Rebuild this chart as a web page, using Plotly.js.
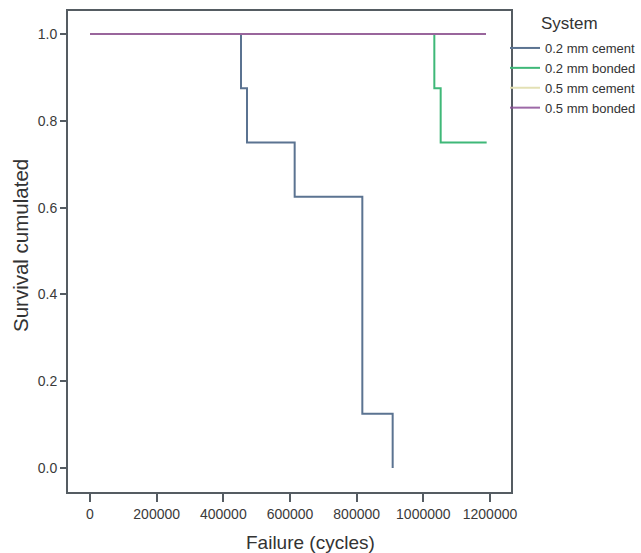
<!DOCTYPE html>
<html>
<head>
<meta charset="utf-8">
<script src="https://cdn.plot.ly/plotly-3.0.1.min.js"></script>
<style>html,body{margin:0;padding:0;background:#fff;}#chart{width:641px;height:553px;}</style>
</head>
<body>
<div id="chart"></div>
<script>
// Kaplan-Meier style survival data (step functions)
const seriesNames = ["0.2 mm cement", "0.2 mm bonded", "0.5 mm cement", "0.5 mm bonded"];
const cement02X = [0, 453000, 471000, 614000, 817000, 908000];
const cement02Y = [1.0, 0.875, 0.75, 0.625, 0.125, 0.0];
const bonded02X = [0, 1033000, 1052000, 1190000];
const bonded02Y = [1.0, 0.875, 0.75, 0.75];
const cement05X = [0, 1188000];
const cement05Y = [1.0, 1.0];
const bonded05X = [0, 1188000];
const bonded05Y = [1.0, 1.0];
const xTickVals = [0, 200000, 400000, 600000, 800000, 1000000, 1200000];
const yTickVals = [0.0, 0.2, 0.4, 0.6, 0.8, 1.0];
const legendTitle = "System";
const xTitle = "Failure (cycles)";
const yTitle = "Survival cumulated";

const colors = ["#5b7391", "#3fb878", "#e3e0b4", "#8c4f98"];
const xs = [cement02X, bonded02X, cement05X, bonded05X];
const ys = [cement02Y, bonded02Y, cement05Y, bonded05Y];

const traces = seriesNames.map((n, i) => ({
  type: "scatter", mode: "lines", name: n,
  x: xs[i], y: ys[i],
  opacity: i === 3 ? 0.85 : 1,
  line: {shape: "hv", color: colors[i], width: 2}
}));

const FAM = "Liberation Sans, Arial, sans-serif";
const axisFont = {family: FAM, size: 14, color: "#3a3a3a"};
const L = 68, T = 11, W = 443, H = 481;
const px2x = p => (p - L) / W;
const px2y = p => (T + H - p) / H;
const layout = {
  width: 641, height: 553,
  margin: {l: 68, r: 130, t: 11, b: 61, autoexpand: false},
  paper_bgcolor: "#fff", plot_bgcolor: "#fff",
  showlegend: true,
  legend: {
    x: px2x(505), xanchor: "left", y: px2y(33), yanchor: "top",
    font: {family: FAM, size: 13, color: "#333"},
    tracegroupgap: 0, itemwidth: 30, bgcolor: "rgba(0,0,0,0)"
  },
  annotations: [
    {text: legendTitle, xref: "paper", yref: "paper",
     x: px2x(539), xanchor: "left", y: px2y(23), yanchor: "middle",
     showarrow: false, font: {family: FAM, size: 17, color: "#333"}},
    {text: xTitle, xref: "paper", yref: "paper",
     x: px2x(310), xanchor: "center", y: px2y(542), yanchor: "middle",
     showarrow: false, font: {family: FAM, size: 19, color: "#333"}},
    {text: yTitle, xref: "paper", yref: "paper", textangle: -90,
     x: px2x(20), xanchor: "center", y: px2y(246), yanchor: "middle",
     showarrow: false, font: {family: FAM, size: 20.5, color: "#333"}}
  ],
  xaxis: {
    range: [-66000, 1263000],
    tickvals: xTickVals, ticktext: xTickVals.map(v => String(v)),
    ticks: "outside", ticklen: 8, tickwidth: 2, tickcolor: "#555c62",
    showline: true, linecolor: "#555c62", linewidth: 2, mirror: true,
    showgrid: false, zeroline: false, tickfont: axisFont
  },
  yaxis: {
    range: [-0.055, 1.053],
    tickvals: yTickVals, ticktext: yTickVals.map(v => v.toFixed(1)),
    ticks: "outside", ticklen: 6, tickwidth: 2, tickcolor: "#555c62",
    showline: true, linecolor: "#555c62", linewidth: 2, mirror: true,
    showgrid: false, zeroline: false, tickfont: axisFont
  }
};
Plotly.newPlot("chart", traces, layout, {displayModeBar: false, staticPlot: true});
</script>
</body>
</html>
